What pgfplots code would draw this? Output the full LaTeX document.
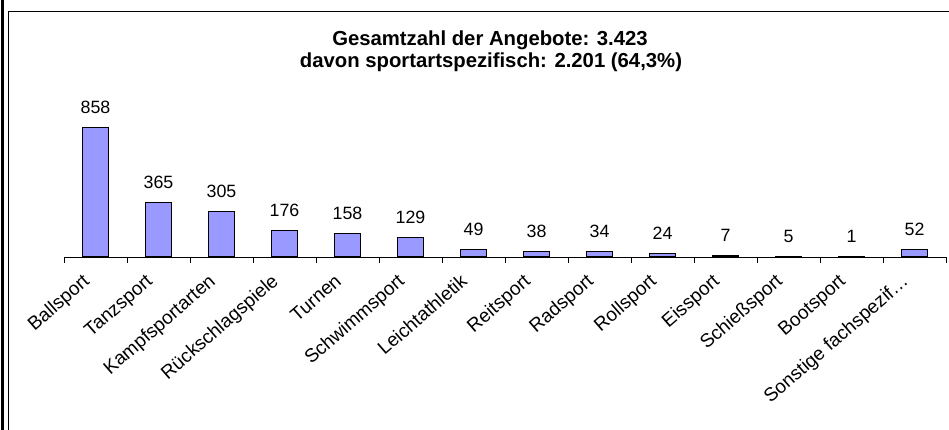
\documentclass[border=0pt]{standalone}
\usepackage{fontspec}
\setmainfont{Liberation Sans}
\usepackage{pgfplots}
\pgfplotsset{compat=1.18}
\definecolor{barblue}{HTML}{9999FF}
\begin{document}
\begin{tikzpicture}[x=1pt,y=1pt]
\path[use as bounding box] (0,0) rectangle (949,430);
\draw[line width=2.5pt] (2.5,0) -- (2.5,430);
\draw[line width=1.6pt] (8.3,0) -- (8.3,418.6) -- (949,418.6);
\node[font=\bfseries\fontsize{20.3}{23}\selectfont] at (490,390) {Gesamtzahl der Angebote: 3.423};
\node[font=\bfseries\fontsize{20.3}{23}\selectfont] at (491,367.5) {davon sportartspezifisch: 2.201 (64,3\%)};
\begin{axis}[
  at={(64pt,173pt)}, anchor=south west,
  scale only axis, width=882pt, height=150.5pt,
  xmin=-0.5, xmax=13.5, ymin=0, ymax=1000,
  axis x line*=bottom, axis y line=none,
  x axis line style={-, line width=0.9pt},
  clip=false,
  xtick={0,...,13},
  major tick length=0pt,
  minor xtick={-0.5,0.5,...,13.5},
  minor tick length=6pt,
  tick align=outside,
  minor tick style={line width=0.9pt, black},
  xticklabels={Ballsport,Tanzsport,Kampfsportarten,Rückschlagspiele,Turnen,Schwimmsport,Leichtathletik,Reitsport,Radsport,Rollsport,Eissport,Schießsport,Bootsport,Sonstige fachspezif…},
  xticklabel style={xshift=-5pt, yshift=-26pt, rotate=41, anchor=base east, font=\fontsize{19}{22}\selectfont, inner sep=0pt},
  ybar, bar width=26pt,
  nodes near coords,
  /pgf/number format/assume math mode=true,
  every node near coord/.append style={font=\fontsize{17.8}{20}\selectfont, anchor=base, inner sep=0pt, yshift=14pt, /pgf/number format/1000 sep={}},
]
\addplot[fill=barblue, draw=black, line width=1pt] coordinates {
(0,858) (1,365) (2,305) (3,176) (4,158) (5,129) (6,49) (7,38) (8,34) (9,24) (10,7) (11,5) (12,1) (13,52)};
\end{axis}
\end{tikzpicture}
\end{document}
